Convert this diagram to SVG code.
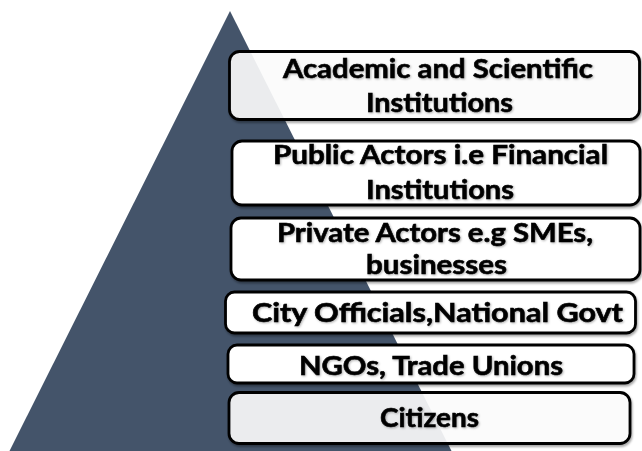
<svg xmlns="http://www.w3.org/2000/svg" width="642" height="451" viewBox="0 0 642 451">
  <defs>
    <filter id="boxShadow" x="-5%" y="-20%" width="110%" height="150%">
      <feDropShadow dx="1" dy="2" stdDeviation="1.2" flood-color="#000" flood-opacity="0.35"/>
    </filter>
    <filter id="textShadow" x="-5%" y="-20%" width="110%" height="150%">
      <feDropShadow dx="1" dy="1" stdDeviation="0.8" flood-color="#000" flood-opacity="0.3"/>
    </filter>
  </defs>
  <style>
    .box { stroke: #000; stroke-width: 2.8; filter: url(#boxShadow); }
    .solid { fill: #ffffff; }
    .glass { fill: #ffffff; fill-opacity: 0.88; }
    .label { font-family: "Lato", "Open Sans", "Liberation Sans", sans-serif; font-weight: 700; font-size: 27px; fill: #000; stroke: #000; stroke-width: 0.6; text-anchor: middle; filter: url(#textShadow); }
  </style>

  <rect width="642" height="451" fill="#ffffff"/>

  <!-- pyramid background -->
  <polygon id="pyramid" points="230,11 452,452 9,452" fill="#44546A"/>

  <g id="tier-academic">
    <rect class="box glass" x="229.5" y="51.5" width="410" height="68" rx="10" stroke-width="3.4"/>
    <text class="label" x="438" y="78" textLength="310" lengthAdjust="spacingAndGlyphs">Academic and Scientific</text>
    <text class="label" x="439.5" y="112" textLength="147" lengthAdjust="spacingAndGlyphs">Institutions</text>
  </g>

  <g id="tier-public">
    <rect class="box solid" x="232" y="141" width="408" height="64" rx="10"/>
    <text class="label" x="440.5" y="164" textLength="335" lengthAdjust="spacingAndGlyphs">Public Actors i.e Financial</text>
    <text class="label" x="440" y="199" textLength="148" lengthAdjust="spacingAndGlyphs">Institutions</text>
  </g>

  <g id="tier-private">
    <rect class="box solid" x="231" y="218" width="409" height="62" rx="10"/>
    <text class="label" x="435" y="242" textLength="316" lengthAdjust="spacingAndGlyphs">Private Actors e.g SMEs,</text>
    <text class="label" x="436.5" y="274" textLength="141" lengthAdjust="spacingAndGlyphs">businesses</text>
  </g>

  <g id="tier-officials">
    <rect class="box solid" x="225.5" y="292" width="410" height="41" rx="9"/>
    <text class="label" x="437.5" y="322" textLength="371" lengthAdjust="spacingAndGlyphs">City Officials,National Govt</text>
  </g>

  <g id="tier-ngos">
    <rect class="box solid" x="228" y="345" width="406" height="38" rx="9"/>
    <text class="label" x="431" y="375" textLength="264" lengthAdjust="spacingAndGlyphs">NGOs, Trade Unions</text>
  </g>

  <g id="tier-citizens">
    <rect class="box glass" x="229" y="392.5" width="401" height="51" rx="10"/>
    <text class="label" x="429.5" y="427" textLength="99" lengthAdjust="spacingAndGlyphs">Citizens</text>
  </g>

  <g id="connectors"/>
</svg>
